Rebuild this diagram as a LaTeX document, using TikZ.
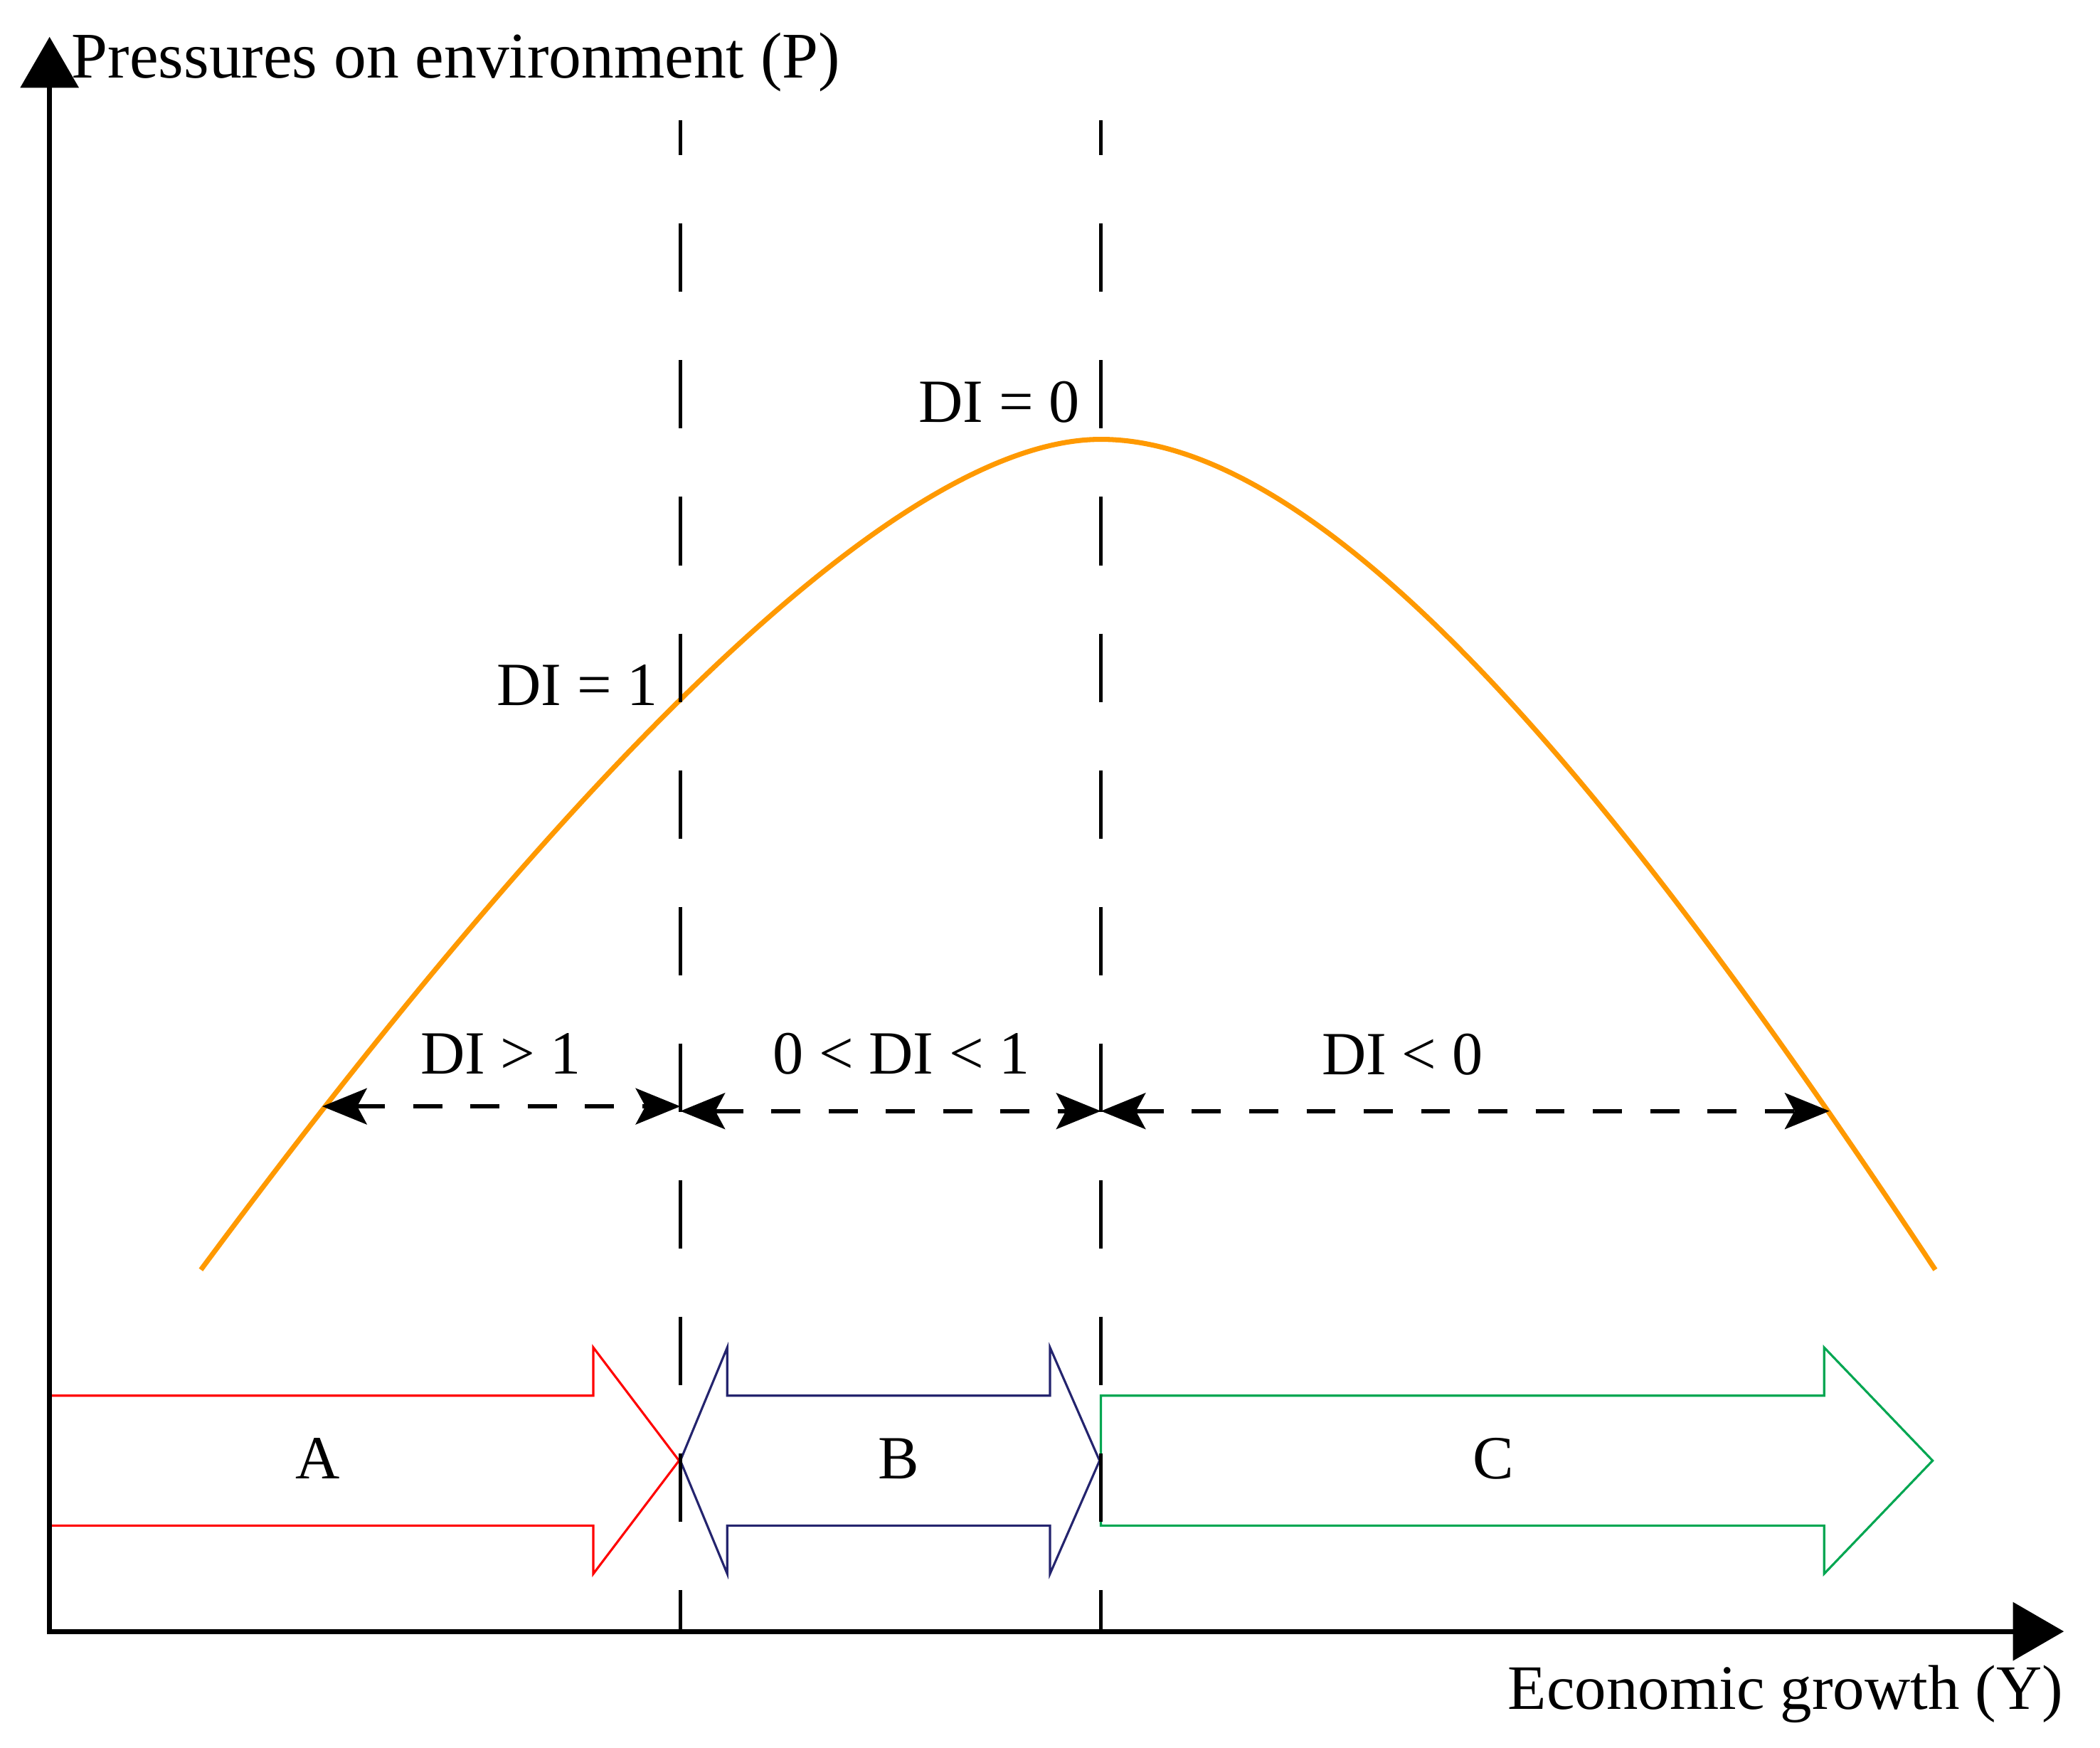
\documentclass[tikz,border=0pt]{standalone}
\usepackage{fontspec}
\setmainfont{Liberation Serif}
\usetikzlibrary{arrows.meta}
\definecolor{curveorange}{RGB}{255,153,0}
\definecolor{arrowred}{RGB}{255,0,0}
\definecolor{arrownavy}{RGB}{36,36,110}
\definecolor{arrowgreen}{RGB}{0,166,81}
\begin{document}
\begin{tikzpicture}[x=0.36pt,y=-0.36pt,
  axisline/.style={line width=1.3pt, line join=miter,
    {Triangle[length=13.7pt,width=15.5pt]}-{Triangle[length=13.7pt,width=15.5pt]}},
  guide/.style={line width=0.9pt, dash pattern=on 18.36pt off 18.36pt, dash phase=9pt},
  span/.style={line width=1.1pt, dash pattern=on 7.8pt off 7.6pt,
    {Stealth[length=12pt,width=9.7pt,inset=2.6pt]}-{Stealth[length=12pt,width=9.7pt,inset=2.6pt]}},
  curveline/.style={line width=1.35pt, curveorange},
  blockarrow/.style={line width=0.6pt, line join=miter},
  lbl/.style={font=\fontsize{16.5}{19}\selectfont, inner sep=0pt, anchor=base},
  ytitlestyle/.style={font=\fontsize{17.5}{20}\selectfont, inner sep=0pt},
  xtitlestyle/.style={font=\fontsize{17}{20}\selectfont, inner sep=0pt}]
\useasboundingbox (0,0) rectangle (1568,1305);

% coordinates
\coordinate (O) at (37,1218);
\coordinate (Ytip) at (37,27.5);
\coordinate (Xtip) at (1541,1218);
\coordinate (g1top) at (508,90);
\coordinate (g1bot) at (508,1218);
\coordinate (g2top) at (822,90);
\coordinate (g2bot) at (822,1218);
\coordinate (s1a) at (240.6,826);
\coordinate (s1b) at (508,826);
\coordinate (s2a) at (508,829.5);
\coordinate (s2b) at (822,829.5);
\coordinate (s3a) at (822,829.5);
\coordinate (s3b) at (1366,829.5);
\coordinate (cstart) at (150,948);
\coordinate (cpeak) at (822,328);
\coordinate (cend) at (1445,948);

% block arrows
\draw[blockarrow, arrowred] (37,1042) -- (443,1042) -- (443,1006) -- (507,1090.5)
  -- (443,1175) -- (443,1139) -- (37,1139);
\draw[blockarrow, arrownavy] (508,1090.5) -- (543,1006) -- (543,1042) -- (784,1042)
  -- (784,1006) -- (821,1090.5) -- (784,1175) -- (784,1139) -- (543,1139)
  -- (543,1175) -- cycle;
\draw[blockarrow, arrowgreen] (822,1042) -- (1362,1042) -- (1362,1006) -- (1443,1090.5)
  -- (1362,1175) -- (1362,1139) -- (822,1139) -- cycle;

% curve
\draw[curveline] (cstart) .. controls (335,698.25) and (637,328) .. (cpeak)
  .. controls (1002,328) and (1230,623.35) .. (cend);

% guides
\draw[guide] (g1top) -- (g1bot);
\draw[guide] (g2top) -- (g2bot);

% spans
\draw[span] (s1a) -- (s1b);
\draw[span] (s2a) -- (s2b);
\draw[span] (s3a) -- (s3b);

% axes
\draw[axisline] (Ytip) -- (O) -- (Xtip);

% labels
\node[ytitlestyle, anchor=base west] (ytitle) at (53,58.4) {Pressures on environment (P)};
\node[xtitlestyle, anchor=base east] (xtitle) at (1541,1276) {Economic growth (Y)};
\node[lbl] (di0) at (746,315) {DI = 0};
\node[lbl] (di1) at (431,526.4) {DI = 1};
\node[lbl] (digt) at (374,801.6) {DI > 1};
\node[lbl] (dimid) at (673,801.6) {0 < DI < 1};
\node[lbl] (dilt) at (1047,802.5) {DI < 0};
\node[lbl] (labA) at (237,1104) {A};
\node[lbl] (labB) at (671,1104) {B};
\node[lbl] (labC) at (1115,1104) {C};
\end{tikzpicture}
\end{document}
